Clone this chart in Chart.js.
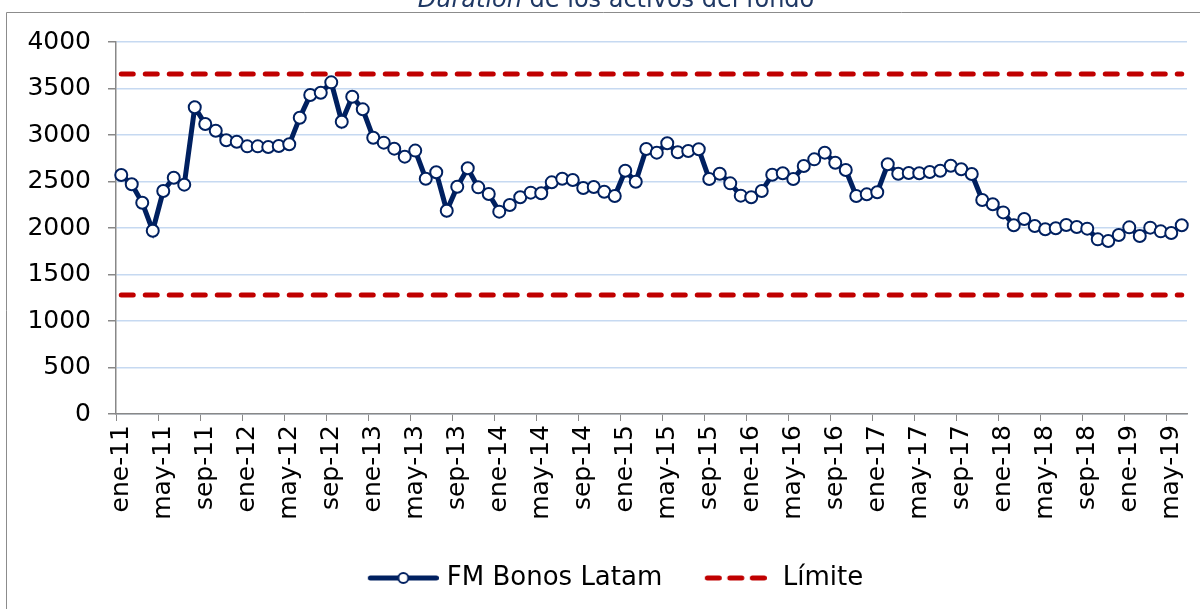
<!DOCTYPE html>
<html lang="es">

<head>
    <meta charset="UTF-8">
    <title>Duration de los activos del fondo</title>
    <script src="https://cdn.jsdelivr.net/npm/chart.js"></script>
    <style>
        body {
            margin: 0;
            background: #ffffff;
        }

        .grafico {
            width: 1200px;
            height: 609px;
        }
    </style>
</head>

<body>
    <div class="grafico">
        <canvas id="lineDuration"></canvas>
    </div>
</body>

<script>
    // meses y años del eje x (ene-11 a jun-19)
    const meses = ['ene', 'feb', 'mar', 'abr', 'may', 'jun', 'jul', 'ago', 'sep', 'oct', 'nov', 'dic'];
    const anios = ['11', '12', '13', '14', '15', '16', '17', '18', '19'];

    // duration mensual del fondo
    const fmBonosLatam = [
        2570, 2470, 2272, 1971, 2398, 2541, 2466, 3298, 3118, 3046, 2943, 2928,
        2878, 2878, 2871, 2882, 2900, 3186, 3430, 3455, 3566, 3143, 3412, 3276,
        2971, 2918, 2853, 2767, 2832, 2530, 2599, 2186, 2444, 2642, 2437, 2366,
        2176, 2247, 2330, 2380, 2373, 2491, 2530, 2516, 2430, 2441, 2390, 2344,
        2616, 2498, 2849, 2810, 2911, 2814, 2828, 2846, 2527, 2584, 2480, 2348,
        2330, 2398, 2573, 2588, 2527, 2667, 2738, 2810, 2702, 2624, 2344, 2362,
        2384, 2685, 2584, 2591, 2588, 2602, 2616, 2670, 2631, 2581, 2301, 2255,
        2168, 2029, 2097, 2022, 1986, 1997, 2032, 2011, 1993, 1878, 1860, 1925,
        2007, 1914, 2004, 1964, 1946, 2029
    ];

    const limiteSuperior = 3655;
    const limiteInferior = 1280;

    const ticksY = [0, 500, 1000, 1500, 2000, 2500, 3000, 3500, 4000];

    let labels = [];
    anios.forEach(anio => {
        meses.forEach(mes => {
            if (labels.length < fmBonosLatam.length) {
                labels.push(mes + '-' + anio);
            }
        });
    });

    const azul = '#002060';
    const rojo = '#C00000';
    const fuente = "'DejaVu Sans', Verdana, sans-serif";

    // iconos de la leyenda (linea con marcador y linea discontinua)
    function iconoSerie() {
        const c = document.createElement('canvas');
        c.width = 98;
        c.height = 14;
        const g = c.getContext('2d');
        g.strokeStyle = azul;
        g.lineWidth = 5;
        g.lineCap = 'round';
        g.beginPath();
        g.moveTo(29.5, 7);
        g.lineTo(95.5, 7);
        g.stroke();
        g.beginPath();
        g.arc(62.5, 7, 5, 0, Math.PI * 2);
        g.fillStyle = '#ffffff';
        g.fill();
        g.lineWidth = 2;
        g.stroke();
        return c;
    }

    function iconoLimite() {
        const c = document.createElement('canvas');
        c.width = 82;
        c.height = 14;
        const g = c.getContext('2d');
        g.strokeStyle = rojo;
        g.lineWidth = 5;
        g.lineCap = 'round';
        g.setLineDash([12, 10.5]);
        g.beginPath();
        g.moveTo(22.5, 7);
        g.lineTo(80, 7);
        g.stroke();
        return c;
    }

    const icoSerie = iconoSerie();
    const icoLimite = iconoLimite();

    // titulo (cortado arriba) y marco del grafico
    const marco = {
        id: 'marco',
        beforeDraw(chart) {
            const g = chart.ctx;
            g.save();
            g.fillStyle = '#ffffff';
            g.fillRect(0, 0, chart.width, chart.height);
            g.strokeStyle = '#8c8c8c';
            g.lineWidth = 1;
            g.beginPath();
            g.moveTo(6.5, chart.height);
            g.lineTo(6.5, 12.5);
            g.lineTo(chart.width, 12.5);
            g.stroke();
            g.restore();
        },
        afterDraw(chart) {
            const g = chart.ctx;
            g.save();
            g.fillStyle = '#1F3864';
            g.textBaseline = 'alphabetic';
            const parte1 = 'Duration';
            const parte2 = ' de los activos del fondo';
            g.font = 'italic 24px ' + fuente;
            const w1 = g.measureText(parte1).width;
            g.font = '24px ' + fuente;
            const w2 = g.measureText(parte2).width;
            let x = 616 - (w1 + w2) / 2;
            g.font = 'italic 24px ' + fuente;
            g.fillText(parte1, x, 7);
            g.font = '24px ' + fuente;
            g.fillText(parte2, x + w1, 7);
            g.restore();
        }
    };

    const dados = {
        labels: labels,
        datasets: [{
            label: 'FM Bonos Latam',
            data: fmBonosLatam,
            borderColor: azul,
            borderWidth: 5,
            pointRadius: 6,
            pointBackgroundColor: '#ffffff',
            pointBorderColor: azul,
            pointBorderWidth: 2,
            tension: 0,
            order: 0
        }, {
            label: 'Límite',
            data: [{ x: labels[0], y: limiteSuperior }, { x: labels[labels.length - 1], y: limiteSuperior }],
            borderColor: rojo,
            borderWidth: 5,
            borderDash: [12, 12],
            borderCapStyle: 'round',
            pointRadius: 0,
            order: 1
        }, {
            label: 'Límite inferior',
            data: [{ x: labels[0], y: limiteInferior }, { x: labels[labels.length - 1], y: limiteInferior }],
            borderColor: rojo,
            borderWidth: 5,
            borderDash: [12, 12],
            borderCapStyle: 'round',
            pointRadius: 0,
            order: 1
        }]
    };

    const config = {
        type: 'line',
        data: dados,
        plugins: [marco],
        options: {
            responsive: true,
            maintainAspectRatio: false,
            animation: false,
            layout: {
                padding: { left: 22, right: 13, top: 42, bottom: 8 }
            },
            plugins: {
                tooltip: { enabled: false },
                legend: {
                    position: 'bottom',
                    labels: {
                        usePointStyle: true,
                        pointStyleWidth: 88,
                        padding: 19.5,
                        color: '#000000',
                        font: { family: fuente, size: 26 },
                        generateLabels(chart) {
                            const itens = Chart.defaults.plugins.legend.labels.generateLabels(chart);
                            return itens.filter(i => i.datasetIndex !== 2).map(i => {
                                i.pointStyle = i.datasetIndex === 0 ? icoSerie : icoLimite;
                                return i;
                            });
                        }
                    }
                }
            },
            scales: {
                x: {
                    offset: true,
                    afterFit(scale) {
                        scale.height = 131.5;
                        scale.paddingLeft = 0;
                        scale.paddingRight = 0;
                    },
                    border: { color: '#888888', width: 1.5 },
                    grid: {
                        offset: true,
                        drawOnChartArea: false,
                        tickLength: 7,
                        tickColor: ctx => ctx.index % 4 === 0 ? '#888888' : 'rgba(0,0,0,0)'
                    },
                    ticks: {
                        autoSkip: false,
                        maxRotation: 90,
                        minRotation: 90,
                        padding: 4,
                        color: '#000000',
                        font: { family: fuente, size: 25 },
                        callback: function (valor, indice) {
                            return indice % 4 === 0 ? this.getLabelForValue(valor) : '';
                        }
                    }
                },
                y: {
                    min: 0,
                    max: 4000,
                    afterFit(scale) {
                        scale.width = 94;
                    },
                    afterBuildTicks(scale) {
                        scale.ticks = ticksY.map(v => ({ value: v }));
                    },
                    border: { color: '#888888', width: 1.5 },
                    grid: {
                        color: '#C6D9F1',
                        lineWidth: 1.5,
                        tickLength: 8,
                        tickColor: '#888888'
                    },
                    ticks: {
                        padding: 17,
                        color: '#000000',
                        font: { family: fuente, size: 25 },
                        callback: valor => String(valor)
                    }
                }
            }
        }
    };

    let lineDuration = new Chart(
        document.getElementById('lineDuration'),
        config
    );
</script>

</html>
